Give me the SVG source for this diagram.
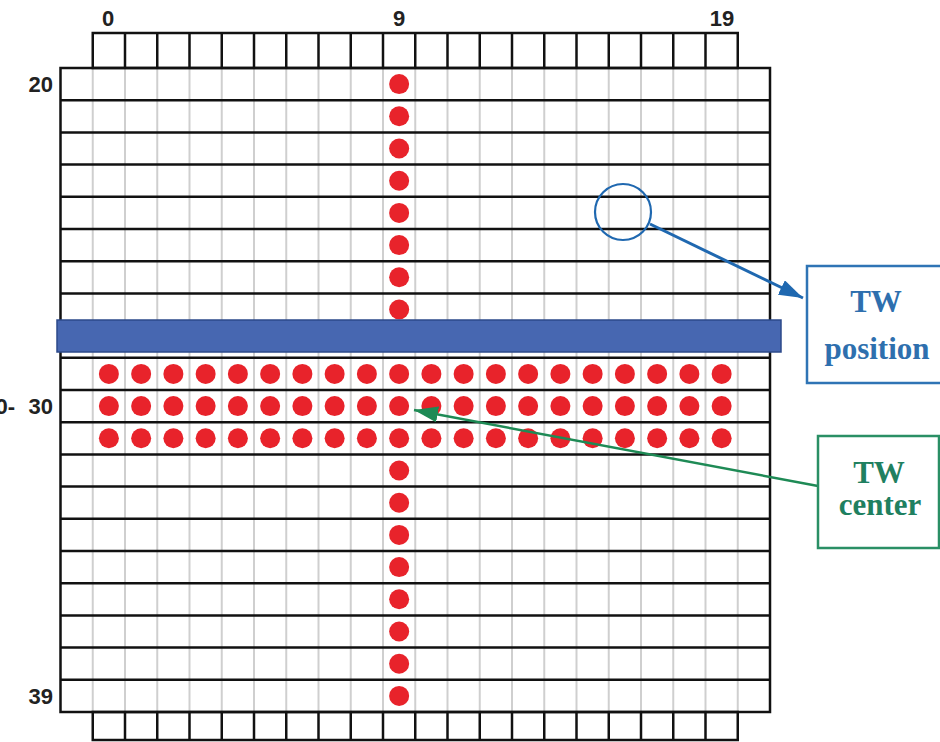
<svg xmlns="http://www.w3.org/2000/svg" width="940" height="742" viewBox="0 0 940 742">
<style>
.lbl{font-family:"Liberation Sans",Arial,sans-serif;font-weight:bold;font-size:22px;fill:#222}
.row{stroke:#111;stroke-width:2.5}
.gv{stroke:#cfcfcf;stroke-width:2}
.bv{stroke:#111;stroke-width:2.5}
.dot{fill:#e8232b}
.tb{font-family:"Liberation Serif","Times New Roman",serif;font-weight:bold;font-size:31px;text-anchor:middle}
</style>
<defs>
<marker id="ab" viewBox="0 0 24 16" refX="24" refY="8" markerWidth="24" markerHeight="16" orient="auto" markerUnits="userSpaceOnUse">
<path d="M0,0 L24,8 L0,16 z" fill="#1f68b0"/>
</marker>
<marker id="ag" viewBox="0 0 24 16" refX="24" refY="8" markerWidth="24" markerHeight="16" orient="auto" markerUnits="userSpaceOnUse">
<path d="M0,0 L24,8 L0,16 z" fill="#1e8a55"/>
</marker>
<circle id="d" r="10" class="dot"/>
</defs>
<rect width="940" height="742" fill="#fff"/>

<g id="grid">
<g class="gv">
<line x1="92.75" y1="68" x2="92.75" y2="712"/><line x1="125" y1="68" x2="125" y2="712"/><line x1="157.25" y1="68" x2="157.25" y2="712"/><line x1="189.5" y1="68" x2="189.5" y2="712"/><line x1="221.75" y1="68" x2="221.75" y2="712"/><line x1="254" y1="68" x2="254" y2="712"/><line x1="286.25" y1="68" x2="286.25" y2="712"/><line x1="318.5" y1="68" x2="318.5" y2="712"/><line x1="350.75" y1="68" x2="350.75" y2="712"/><line x1="383" y1="68" x2="383" y2="712"/><line x1="415.25" y1="68" x2="415.25" y2="712"/><line x1="447.5" y1="68" x2="447.5" y2="712"/><line x1="479.75" y1="68" x2="479.75" y2="712"/><line x1="512" y1="68" x2="512" y2="712"/><line x1="544.25" y1="68" x2="544.25" y2="712"/><line x1="576.5" y1="68" x2="576.5" y2="712"/><line x1="608.75" y1="68" x2="608.75" y2="712"/><line x1="641" y1="68" x2="641" y2="712"/><line x1="673.25" y1="68" x2="673.25" y2="712"/><line x1="705.5" y1="68" x2="705.5" y2="712"/><line x1="737.75" y1="68" x2="737.75" y2="712"/>
</g>
<g class="row">
<line x1="60.5" y1="100.2" x2="770" y2="100.2"/><line x1="60.5" y1="132.4" x2="770" y2="132.4"/><line x1="60.5" y1="164.6" x2="770" y2="164.6"/><line x1="60.5" y1="196.8" x2="770" y2="196.8"/><line x1="60.5" y1="229" x2="770" y2="229"/><line x1="60.5" y1="261.2" x2="770" y2="261.2"/><line x1="60.5" y1="293.4" x2="770" y2="293.4"/><line x1="60.5" y1="325.6" x2="770" y2="325.6"/><line x1="60.5" y1="357.8" x2="770" y2="357.8"/><line x1="60.5" y1="390" x2="770" y2="390"/><line x1="60.5" y1="422.2" x2="770" y2="422.2"/><line x1="60.5" y1="454.4" x2="770" y2="454.4"/><line x1="60.5" y1="486.6" x2="770" y2="486.6"/><line x1="60.5" y1="518.8" x2="770" y2="518.8"/><line x1="60.5" y1="551" x2="770" y2="551"/><line x1="60.5" y1="583.2" x2="770" y2="583.2"/><line x1="60.5" y1="615.4" x2="770" y2="615.4"/><line x1="60.5" y1="647.6" x2="770" y2="647.6"/><line x1="60.5" y1="679.8" x2="770" y2="679.8"/>
</g>
<rect x="60.5" y="68" width="709.5" height="644" fill="none" stroke="#111" stroke-width="2.5"/>
</g>

<g id="top-boxes">
<rect x="92.75" y="33" width="645" height="35" fill="none" stroke="#111" stroke-width="2.5"/>
<g class="bv">
<line x1="125" y1="33" x2="125" y2="68"/><line x1="157.25" y1="33" x2="157.25" y2="68"/><line x1="189.5" y1="33" x2="189.5" y2="68"/><line x1="221.75" y1="33" x2="221.75" y2="68"/><line x1="254" y1="33" x2="254" y2="68"/><line x1="286.25" y1="33" x2="286.25" y2="68"/><line x1="318.5" y1="33" x2="318.5" y2="68"/><line x1="350.75" y1="33" x2="350.75" y2="68"/><line x1="383" y1="33" x2="383" y2="68"/><line x1="415.25" y1="33" x2="415.25" y2="68"/><line x1="447.5" y1="33" x2="447.5" y2="68"/><line x1="479.75" y1="33" x2="479.75" y2="68"/><line x1="512" y1="33" x2="512" y2="68"/><line x1="544.25" y1="33" x2="544.25" y2="68"/><line x1="576.5" y1="33" x2="576.5" y2="68"/><line x1="608.75" y1="33" x2="608.75" y2="68"/><line x1="641" y1="33" x2="641" y2="68"/><line x1="673.25" y1="33" x2="673.25" y2="68"/><line x1="705.5" y1="33" x2="705.5" y2="68"/>
</g>
</g>

<g id="bottom-boxes">
<rect x="92.75" y="712" width="645" height="28" fill="none" stroke="#111" stroke-width="2.5"/>
<g class="bv">
<line x1="125" y1="712" x2="125" y2="740"/><line x1="157.25" y1="712" x2="157.25" y2="740"/><line x1="189.5" y1="712" x2="189.5" y2="740"/><line x1="221.75" y1="712" x2="221.75" y2="740"/><line x1="254" y1="712" x2="254" y2="740"/><line x1="286.25" y1="712" x2="286.25" y2="740"/><line x1="318.5" y1="712" x2="318.5" y2="740"/><line x1="350.75" y1="712" x2="350.75" y2="740"/><line x1="383" y1="712" x2="383" y2="740"/><line x1="415.25" y1="712" x2="415.25" y2="740"/><line x1="447.5" y1="712" x2="447.5" y2="740"/><line x1="479.75" y1="712" x2="479.75" y2="740"/><line x1="512" y1="712" x2="512" y2="740"/><line x1="544.25" y1="712" x2="544.25" y2="740"/><line x1="576.5" y1="712" x2="576.5" y2="740"/><line x1="608.75" y1="712" x2="608.75" y2="740"/><line x1="641" y1="712" x2="641" y2="740"/><line x1="673.25" y1="712" x2="673.25" y2="740"/><line x1="705.5" y1="712" x2="705.5" y2="740"/>
</g>
</g>

<g id="labels">
<text class="lbl" x="108" y="26" text-anchor="middle">0</text>
<text class="lbl" x="399" y="26" text-anchor="middle">9</text>
<text class="lbl" x="722" y="26" text-anchor="middle">19</text>
<text class="lbl" x="53" y="92" text-anchor="end">20</text>
<text class="lbl" x="53" y="414" text-anchor="end">30</text>
<text class="lbl" x="53" y="704" text-anchor="end">39</text>
<text class="lbl" x="15" y="414" text-anchor="end">0-</text>
</g>

<g id="dots">
<use href="#d" x="399.15" y="84.1"/><use href="#d" x="399.15" y="116.3"/><use href="#d" x="399.15" y="148.5"/><use href="#d" x="399.15" y="180.7"/><use href="#d" x="399.15" y="212.9"/><use href="#d" x="399.15" y="245.1"/><use href="#d" x="399.15" y="277.3"/><use href="#d" x="399.15" y="309.5"/><use href="#d" x="399.15" y="341.7"/>
<use href="#d" x="399.15" y="470.5"/><use href="#d" x="399.15" y="502.7"/><use href="#d" x="399.15" y="534.9"/><use href="#d" x="399.15" y="567.1"/><use href="#d" x="399.15" y="599.3"/><use href="#d" x="399.15" y="631.5"/><use href="#d" x="399.15" y="663.7"/><use href="#d" x="399.15" y="695.9"/>
<g id="r29">
<use href="#d" x="108.9" y="373.9"/><use href="#d" x="141.15" y="373.9"/><use href="#d" x="173.4" y="373.9"/><use href="#d" x="205.65" y="373.9"/><use href="#d" x="237.9" y="373.9"/><use href="#d" x="270.15" y="373.9"/><use href="#d" x="302.4" y="373.9"/><use href="#d" x="334.65" y="373.9"/><use href="#d" x="366.9" y="373.9"/><use href="#d" x="399.15" y="373.9"/><use href="#d" x="431.4" y="373.9"/><use href="#d" x="463.65" y="373.9"/><use href="#d" x="495.9" y="373.9"/><use href="#d" x="528.15" y="373.9"/><use href="#d" x="560.4" y="373.9"/><use href="#d" x="592.65" y="373.9"/><use href="#d" x="624.9" y="373.9"/><use href="#d" x="657.15" y="373.9"/><use href="#d" x="689.4" y="373.9"/><use href="#d" x="721.65" y="373.9"/>
</g>
<use href="#r29" y="32.2"/>
<use href="#r29" y="64.4"/>
</g>

<g id="tw-bar">
<rect x="57" y="320" width="724" height="32" fill="#4767b1" stroke="#2d4a8a" stroke-width="1.5"/>
</g>

<g id="tw-circle">
<circle cx="623" cy="212" r="28" fill="none" stroke="#1f68b0" stroke-width="2.2"/>
</g>

<g id="connectors">
<line x1="650" y1="224" x2="803" y2="298" stroke="#1f68b0" stroke-width="3" marker-end="url(#ab)"/>
<line x1="818" y1="486" x2="414" y2="410" stroke="#1e8a55" stroke-width="2.5" marker-end="url(#ag)"/>
</g>

<g id="tw-position">
<rect x="807" y="266" width="140" height="117" fill="#fff" stroke="#2f74b5" stroke-width="2.5"/>
<text class="tb" x="876" y="312" fill="#2e6fae">TW</text>
<text class="tb" x="877" y="359" fill="#2e6fae">position</text>
</g>

<g id="tw-center">
<rect x="818" y="436" width="121" height="112" fill="#fff" stroke="#2a8f65" stroke-width="2.5"/>
<text class="tb" x="879" y="483" fill="#1f8060">TW</text>
<text class="tb" x="880" y="515" fill="#1f8060">center</text>
</g>
</svg>
